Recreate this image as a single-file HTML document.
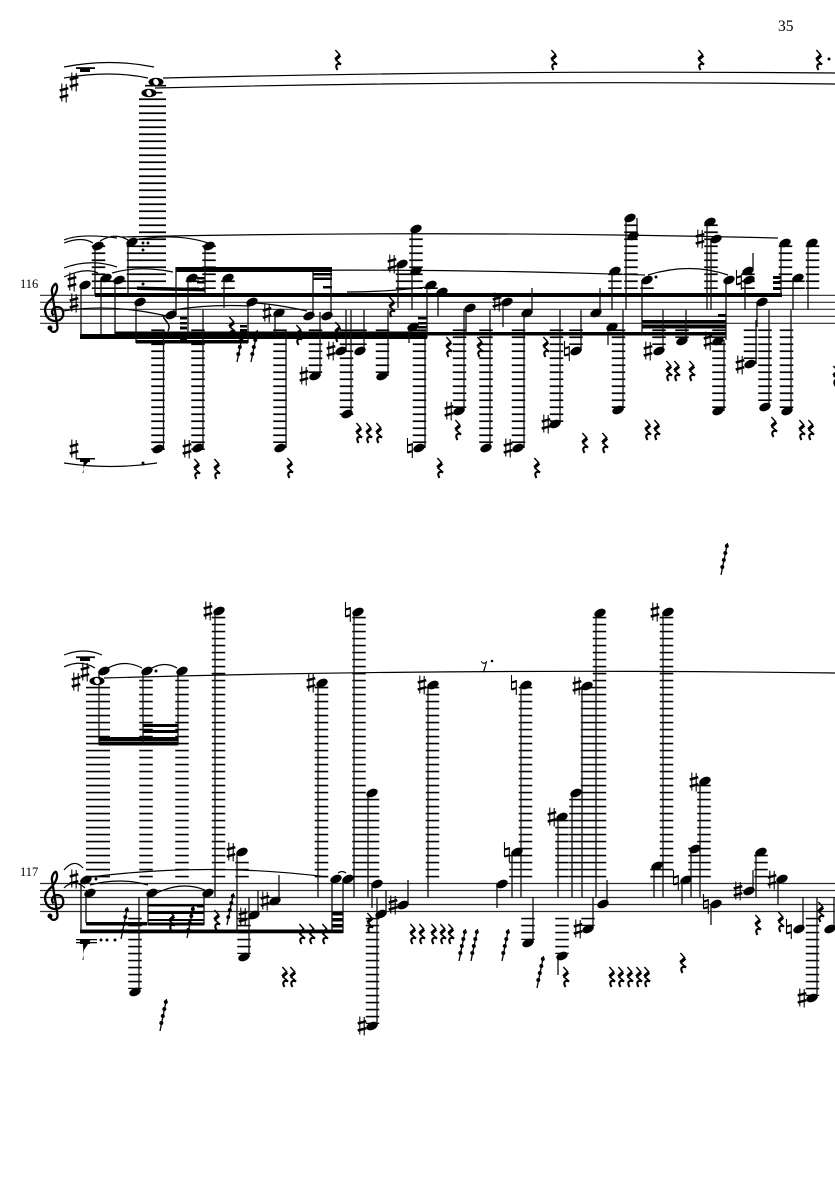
<!DOCTYPE html>
<html><head><meta charset="utf-8"><title>Score</title>
<style>html,body{margin:0;padding:0;background:#fff}svg{display:block}
.st{stroke:#2a2a2a;stroke-width:1.2;fill:none}
.s{stroke:#111;stroke-width:1.3;fill:none}
.l{stroke:#000;fill:none;stroke-width:13.5;stroke-dasharray:1.7 5.3}
.t{stroke:#000;stroke-width:1.2;fill:none}
text{font-family:"Liberation Serif",serif;fill:#000}
</style></head><body>
<svg xmlns="http://www.w3.org/2000/svg" width="835" height="1181" viewBox="0 0 835 1181">
<defs>
<ellipse id="n" rx="6" ry="3.9" transform="rotate(-25)" fill="#000"/>
<g id="r" fill="none" stroke="#000" transform="scale(1.05)"><path d="M-2.500 -9.500L2 -4.500" stroke-width="1.400"/><path d="M2 -4.500L-2.500 -.5" stroke-width="3.200"/><path d="M-2.500 -.5L3 4.200" stroke-width="1.500"/><path d="M3 4.200C-1 2.500-3 5-.5 9.500" stroke-width="2"/></g>
<g id="h" fill="none" stroke="#000"><path d="M-2.200 -9.500V8.500M2.200 -9V9.500" stroke-width="1.100"/><path d="M-4.300 -2.500L4.300 -4.800M-4.300 4.500L4.300 2.200" stroke-width="2.500"/></g>
<g id="a" fill="none" stroke="#000"><path d="M-2.500 -10V5M2.300 -5V10" stroke-width="1.100"/><path d="M-2.500 -2.500L2.300 -3.800M-2.500 4.500L2.300 3.200" stroke-width="2.200"/></g>
<g id="f" fill="#000"><path d="M0 0L6.500 -32" stroke="#000" stroke-width="1.300" fill="none"/><circle cx="1.300" cy="-8" r="2"/><circle cx="2.800" cy="-15" r="2"/><circle cx="4.300" cy="-22" r="2"/><circle cx="5.800" cy="-29" r="2"/></g>
<path id="c" fill="none" stroke="#000" stroke-width="2.300" d="M50 329c2 5 8 3 7.500-2L52 292c-1-4 3-9 4-8c3 4-.5 11-5.500 16c-4.500 4-6.500 8-5 13c1.500 7 8.500 9.500 14 7c6-3 4.500-13-2-13c-5 0-7 5-4 8.500"/>
<circle id="cd" cx="50" cy="328" r="2.500" fill="#000"/>
</defs>

<!-- staves -->
<path class="st" d="M40 295.300H835M40 302.300H835M40 309.300H835M40 316.300H835M40 323.300H835M40 883.500H835M40 890.500H835M40 897.500H835M40 904.500H835M40 911.500H835"/>
<use href="#c"/><use href="#c" y="588"/><use href="#cd"/><use href="#cd" y="588"/>
<text x="778" y="31" font-size="15.500">35</text>
<text x="20" y="288" font-size="12.500">116</text>
<text x="20" y="876" font-size="12.500">117</text>

<!-- wide ledgers -->
<path class="l" style="stroke-width:27" d="M152.500 98.400V289"/>
<path class="l" style="stroke-width:21" d="M155.500 84.900V86.500M152 91.900V93.500"/>
<path class="l" style="stroke-width:24" d="M98 686.700V877.500"/>
<path class="l" style="stroke-width:19" d="M85.500 656.400V662"/>
<path class="l" style="stroke-width:19" d="M85.500 67.400V69"/>
<!-- ledgers -->
<path class="l" d="M98.500 245.400V289M133.500 245.400V289M209 245.400V289M106.500 280.400V289M119.500 280.400V289M192.500 280.400V289M228 280.400V289M416 238.400V289M402.500 273.400V289M431 287.400V289M615 273.400V289M711 224.400V289M785.500 245.400V289M812.500 245.400V289M798 280.400V289M631 224.400V289M748 273.400V289M647 287.400V289M158 329.400V450M198 329.400V450M280 329.400V443M315.500 329.400V373M346.500 329.400V415M360 329.400V345M382.500 329.400V373M419.500 329.400V443M459.500 329.400V408M486 329.400V443M518.500 329.400V443M556.500 329.400V422M576 329.400V345M618.500 329.400V408M659 329.400V345M682 329.400V338M719 329.400V408M750.500 329.400V359M765 329.400V401M786.500 329.400V408
M146 679.700V877.500M182 679.700V877.500M218.500 616.700V877.500M242 861.700V877.500M321.500 686.700V877.500M359 616.700V877.500M372.500 798.700V877.500M432.500 686.700V877.500M516 854.700V877.500M525.500 686.700V877.500M562 819.700V877.500M576 798.700V877.500M587.500 686.700V877.500M599.500 616.700V877.500M657 868.700V877.500M666.500 616.700V877.500M695 847.700V877.500M704 784.700V877.500M761 854.700V877.500M135 917.700V989M244 917.700V954M372.500 917.700V1024M528 917.700V940M562 917.700V954M812.500 917.700V996M588 917.700V926"/>

<!-- beams -->
<g fill="#000">
<rect x="95" y="293" width="687" height="4"/>
<path d="M137 286.500L205 288V291.500L137 290Z"/>
<rect x="176" y="267" width="156" height="5"/>
<rect x="313" y="273" width="19" height="2.500"/><rect x="313" y="277.500" width="19" height="2.500"/><rect x="323" y="286" width="9" height="2.500"/>
<rect x="197" y="277" width="8" height="2.500"/><rect x="197" y="281" width="8" height="2.500"/>
<rect x="80" y="334" width="347" height="5"/>
<rect x="115" y="331.500" width="312" height="3.500"/>
<rect x="136" y="340" width="112" height="3.500"/>
<rect x="427" y="332" width="215" height="3.500"/>
<rect x="642" y="320" width="84" height="3"/><rect x="642" y="324.500" width="84" height="4"/><rect x="642" y="332" width="84" height="3.500"/>
<rect x="180" y="317" width="7" height="2.500"/><rect x="180" y="322" width="7" height="2.500"/><rect x="180" y="326.500" width="7" height="3"/>
<rect x="180" y="336" width="7" height="5"/><rect x="240" y="325" width="7" height="2.500"/><rect x="240" y="329" width="7" height="2.500"/>
<rect x="418" y="317" width="9" height="2.500"/><rect x="418" y="322" width="9" height="2.500"/><rect x="418" y="326" width="9" height="2.500"/>
<rect x="718" y="314" width="8" height="3"/>
<rect x="773" y="276" width="8" height="3"/><rect x="773" y="281" width="8" height="3"/><rect x="773" y="287" width="8" height="3"/>
<rect x="80" y="68" width="10" height="4"/><rect x="76" y="67.300" width="19" height="1.300"/>
<rect x="80" y="458" width="10" height="4"/><rect x="76" y="458" width="19" height="1.500"/>
<path d="M83.500 462L88 462L84 467L82.500 473L83.500 473Z"/>
<rect x="99" y="737" width="79" height="4"/><rect x="99" y="741.500" width="79" height="4"/>
<rect x="143" y="724" width="35" height="3"/><rect x="143" y="730" width="35" height="3"/>
<rect x="80" y="657" width="10" height="4"/>
<rect x="80" y="929.500" width="263" height="3.800"/>
<rect x="86" y="922" width="61" height="3.500"/>
<rect x="148" y="904" width="56" height="2.500"/><rect x="148" y="911" width="56" height="3"/><rect x="148" y="919" width="56" height="2"/><rect x="148" y="922.500" width="56" height="3"/>
<rect x="197" y="904" width="7" height="3.500"/>
<rect x="332" y="912" width="11" height="3.500"/><rect x="332" y="918" width="11" height="3.500"/><rect x="332" y="924" width="11" height="3.500"/>
<rect x="76" y="939" width="21" height="1.300"/><rect x="76" y="942" width="21" height="1.300"/><rect x="80" y="940" width="10" height="4"/>
<path d="M83 944L88 944L84 950L82.500 960L83.500 960Z"/>
<circle cx="101" cy="940" r="1.500"/><circle cx="107" cy="940" r="1.500"/><circle cx="115" cy="940" r="1.500"/>
<circle cx="143" cy="243" r="1.500"/><circle cx="148" cy="243" r="1.500"/><circle cx="143" cy="250" r="1.500"/><circle cx="143" cy="284" r="1.500"/><circle cx="143" cy="463" r="1.500"/>
<circle cx="656" cy="277" r="1.500"/><circle cx="156" cy="671" r="1.500"/><circle cx="96" cy="879" r="1.500"/><circle cx="829" cy="59" r="1.500"/>
<circle cx="492" cy="661" r="1.300"/><path d="M481 661c2 2.500 4 2.500 6 0L484 672H483L486 663C484 664 482 664 481 661Z" stroke="#000" stroke-width=".5"/>
</g>

<!-- stems -->
<path class="s" d="M81 285V337M95 246V295M101 278V335M115 280V335M128 242V294M205 246V295M136 302V343M176 315V267M163.500 449V330M203 448V310M188 278V335M224 278V308M248 302V343M286 448V330M275 313V335
M412 229V310M398 264V308M427 285V338M438 292V316M409 327V343M313 316V272M331 316V272M320 376V312M346 351V310M351 414V310M364 351V310M388 376V310M425 448V338M466 308V333M464 411V310M503 302V327M490 448V310M524 448V310M532 313V288M560 423V310
M637 218V236M626 218V310M612 271V310M642 280V335M600 313V288M608 327V345M623 410V310M581 351V310M707 222V310M711 239V310M726 280V340M753 271V253M745 280V310M757 302V327M663 351V310M686 341V310M724 411V340M756 364V320M769 407V310M791 411V310M781 243V295M808 243V310M793 278V310
M99 671V745M143 671V745M178 671V745M215 611V897M81 880V932M86 893V923M148 893V925M204 893V925M139 992V897M237 852V932M249 957V898M258 915V890M279 901V875
M318 683V897M354 612V897M332 879V933M343 879V933M368 793V897M372 884V908M386 914V890M377 1026V897M408 905V880M428 685V897M497 884V908M512 852V897M521 685V897M533 943V897M558 817V897M558 956V975
M572 793V897M582 686V897M596 613V897M593 929V897M607 904V880M654 866V897M663 612V897M682 880V905M691 849V897M700 782V897M711 904V925M753 891V870M756 852V897M778 879V905M803 929V897M817 998V897M834 929V897"/>

<!-- flag -->
<path d="M163 315C164 322 172 323 168 331" fill="none" stroke="#000" stroke-width="1.500"/>

<!-- notes -->
<g>
<use href="#n" x="98" y="246"/><use href="#n" x="106" y="278"/><use href="#n" x="119" y="280"/><use href="#n" x="85" y="285"/><use href="#n" x="132" y="242"/><use href="#n" x="209" y="246"/><use href="#n" x="140" y="302"/><use href="#n" x="171" y="315"/><use href="#n" x="158" y="449"/><use href="#n" x="198" y="448"/><use href="#n" x="192" y="278"/><use href="#n" x="228" y="278"/><use href="#n" x="252" y="302"/><use href="#n" x="279" y="313"/><use href="#n" x="280" y="448"/>
<use href="#n" x="416" y="229"/><use href="#n" x="416" y="271"/><use href="#n" x="402" y="264"/><use href="#n" x="431" y="285"/><use href="#n" x="442" y="292"/><use href="#n" x="413" y="327"/><use href="#n" x="309" y="316"/><use href="#n" x="327" y="316"/><use href="#n" x="315" y="376"/><use href="#n" x="341" y="351"/><use href="#n" x="347" y="414"/><use href="#n" x="360" y="351"/><use href="#n" x="382" y="376"/><use href="#n" x="419" y="448"/><use href="#n" x="470" y="308"/><use href="#n" x="459" y="411"/><use href="#n" x="507" y="302"/><use href="#n" x="486" y="448"/><use href="#n" x="518" y="448"/><use href="#n" x="527" y="313"/><use href="#n" x="555" y="424"/>
<use href="#n" x="630" y="218"/><use href="#n" x="633" y="236"/><use href="#n" x="615" y="271"/><use href="#n" x="647" y="280"/><use href="#n" x="596" y="313"/><use href="#n" x="612" y="327"/><use href="#n" x="618" y="410"/><use href="#n" x="576" y="351"/><use href="#n" x="710" y="222"/><use href="#n" x="716" y="239"/><use href="#n" x="729" y="280"/><use href="#n" x="748" y="271"/><use href="#n" x="749" y="280"/><use href="#n" x="762" y="302"/><use href="#n" x="659" y="351"/><use href="#n" x="682" y="341"/><use href="#n" x="718" y="341"/><use href="#n" x="718" y="411"/><use href="#n" x="750" y="364"/><use href="#n" x="765" y="407"/><use href="#n" x="787" y="411"/><use href="#n" x="785" y="243"/><use href="#n" x="812" y="243"/><use href="#n" x="798" y="278"/>
<use href="#n" x="104" y="671"/><use href="#n" x="147" y="671"/><use href="#n" x="182" y="671"/><use href="#n" x="219" y="611"/><use href="#n" x="86" y="880"/><use href="#n" x="90" y="893"/><use href="#n" x="152" y="893"/><use href="#n" x="208" y="893"/><use href="#n" x="135" y="992"/><use href="#n" x="242" y="852"/><use href="#n" x="244" y="957"/><use href="#n" x="254" y="915"/><use href="#n" x="275" y="901"/>
<use href="#n" x="322" y="683"/><use href="#n" x="358" y="612"/><use href="#n" x="372" y="793"/><use href="#n" x="336" y="879"/><use href="#n" x="348" y="879"/><use href="#n" x="377" y="884"/><use href="#n" x="381" y="914"/><use href="#n" x="372" y="1026"/><use href="#n" x="403" y="905"/><use href="#n" x="433" y="685"/><use href="#n" x="502" y="884"/><use href="#n" x="517" y="852"/><use href="#n" x="526" y="685"/><use href="#n" x="528" y="943"/><use href="#n" x="562" y="817"/><use href="#n" x="562" y="956"/>
<use href="#n" x="576" y="793"/><use href="#n" x="587" y="686"/><use href="#n" x="600" y="613"/><use href="#n" x="588" y="929"/><use href="#n" x="603" y="904"/><use href="#n" x="657" y="866"/><use href="#n" x="668" y="612"/><use href="#n" x="686" y="880"/><use href="#n" x="695" y="849"/><use href="#n" x="705" y="781"/><use href="#n" x="716" y="904"/><use href="#n" x="749" y="891"/><use href="#n" x="761" y="852"/><use href="#n" x="782" y="879"/><use href="#n" x="799" y="929"/><use href="#n" x="812" y="998"/><use href="#n" x="830" y="929"/>
</g>
<!-- whole notes -->
<g fill="#000"><ellipse cx="156" cy="82" rx="7.500" ry="4.200"/><ellipse cx="149" cy="93" rx="7.500" ry="4.200"/><ellipse cx="97" cy="681" rx="7.500" ry="4.200"/></g>
<g fill="#fff"><ellipse cx="156" cy="82" rx="3.200" ry="2.600" transform="rotate(60 156 82)"/><ellipse cx="149" cy="93" rx="3.200" ry="2.600" transform="rotate(60 149 93)"/><ellipse cx="97" cy="681" rx="3.200" ry="2.600" transform="rotate(60 97 681)"/></g>

<!-- sharps / naturals -->
<g>
<use href="#h" x="64" y="93"/><use href="#h" x="74" y="82"/><use href="#h" x="72" y="282"/><use href="#h" x="74" y="303"/><use href="#h" x="74" y="449"/><use href="#h" x="187" y="449"/><use href="#h" x="267" y="313"/><use href="#h" x="392" y="264"/><use href="#h" x="304" y="376"/><use href="#h" x="331" y="351"/><use href="#h" x="449" y="411"/><use href="#h" x="497" y="302"/><use href="#h" x="508" y="448"/><use href="#h" x="546" y="424"/><use href="#h" x="700" y="239"/><use href="#h" x="648" y="351"/><use href="#h" x="708" y="341"/><use href="#h" x="740" y="365"/>
<use href="#h" x="76" y="682"/><use href="#h" x="85" y="672"/><use href="#h" x="208" y="611"/><use href="#h" x="74" y="879"/><use href="#h" x="231" y="852"/><use href="#h" x="243" y="917"/><use href="#h" x="265" y="901"/><use href="#h" x="311" y="683"/><use href="#h" x="362" y="1026"/><use href="#h" x="393" y="905"/><use href="#h" x="422" y="685"/><use href="#h" x="552" y="817"/><use href="#h" x="577" y="686"/><use href="#h" x="578" y="929"/><use href="#h" x="655" y="612"/><use href="#h" x="694" y="782"/><use href="#h" x="738" y="891"/><use href="#h" x="772" y="880"/><use href="#h" x="802" y="998"/>
<use href="#a" x="410" y="448"/><use href="#a" x="567" y="351"/><use href="#a" x="739" y="280"/><use href="#a" x="348" y="612"/><use href="#a" x="507" y="852"/><use href="#a" x="514" y="685"/><use href="#a" x="676" y="880"/><use href="#a" x="706" y="904"/><use href="#a" x="789" y="929"/>
</g>

<!-- rests -->
<g>
<use href="#r" x="338" y="60"/><use href="#r" x="554" y="60"/><use href="#r" x="701" y="60"/><use href="#r" x="819" y="60"/>
<use href="#r" x="197" y="469"/><use href="#r" x="217" y="469"/><use href="#r" x="232" y="327"/><use href="#r" x="299" y="335"/><use href="#r" x="338" y="332"/><use href="#r" x="392" y="307"/><use href="#r" x="449" y="347"/><use href="#r" x="480" y="347"/><use href="#r" x="546" y="347"/><use href="#r" x="359" y="433"/><use href="#r" x="369" y="433"/><use href="#r" x="379" y="433"/><use href="#r" x="458" y="430"/><use href="#r" x="290" y="468"/><use href="#r" x="440" y="468"/><use href="#r" x="537" y="468"/>
<use href="#r" x="669" y="371"/><use href="#r" x="677" y="371"/><use href="#r" x="692" y="371"/><use href="#r" x="585" y="443"/><use href="#r" x="605" y="443"/><use href="#r" x="648" y="430"/><use href="#r" x="657" y="430"/><use href="#r" x="774" y="427"/><use href="#r" x="802" y="430"/><use href="#r" x="811" y="430"/><use href="#r" x="836" y="376"/>
<use href="#r" x="217" y="920"/><use href="#r" x="172" y="921"/><use href="#r" x="370" y="923"/><use href="#r" x="413" y="934"/><use href="#r" x="422" y="934"/><use href="#r" x="434" y="934"/><use href="#r" x="443" y="934"/><use href="#r" x="451" y="934"/><use href="#r" x="302" y="934"/><use href="#r" x="312" y="934"/><use href="#r" x="325" y="934"/><use href="#r" x="285" y="977"/><use href="#r" x="293" y="977"/>
<use href="#r" x="758" y="925"/><use href="#r" x="781" y="922"/><use href="#r" x="821" y="912"/><use href="#r" x="683" y="963"/><use href="#r" x="612" y="977"/><use href="#r" x="621" y="977"/><use href="#r" x="630" y="977"/><use href="#r" x="639" y="977"/><use href="#r" x="647" y="977"/><use href="#r" x="566" y="977"/>
<use href="#f" x="237" y="362"/><use href="#f" x="251" y="362"/><use href="#f" x="121" y="939"/><use href="#f" x="187" y="938"/><use href="#f" x="227" y="925"/><use href="#f" x="160" y="1031"/><use href="#f" x="459" y="961"/><use href="#f" x="471" y="961"/><use href="#f" x="502" y="961"/><use href="#f" x="537" y="988"/><use href="#f" x="721" y="575"/>
</g>

<!-- ties -->
<g class="t">
<path d="M64 67Q110 58 154 67M64 78Q110 70 148 78M163 78Q500 70 835 73M155 88Q500 80 835 84"/>
<path d="M64 240Q80 233 117 238M64 243Q82 236 93 243M100 241Q115 232 128 240M128 241Q175 232 208 243M120 237Q450 230 778 238"/>
<path d="M64 268Q90 258 117 267M64 277Q85 267 98 273M112 273Q140 265 173 272M225 271Q430 268 645 275M648 275Q690 262 728 275"/>
<path d="M63 311Q110 303 167 316M173 310Q210 304 250 306M255 303Q275 304 307 311M347 292Q385 292 427 287"/>
<path d="M64 463Q110 470 157 463"/>
<path d="M64 655Q84 647 102 655M64 667Q80 659 95 668M108 668Q125 659 142 668M152 668Q165 661 177 668M104 678Q450 668 835 673"/>
<path d="M64 870Q74 858 83 868M64 888Q74 878 85 888M90 877Q210 862 327 877M90 885Q120 877 148 885M153 895Q180 880 205 890M338 873Q342 870 346 873"/>
</g>
</svg>
</body></html>
